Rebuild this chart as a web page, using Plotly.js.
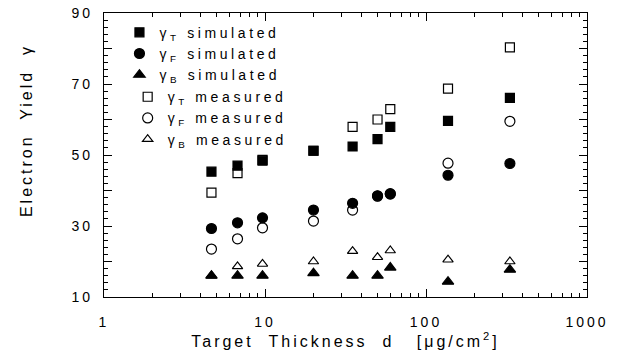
<!DOCTYPE html>
<html>
<head>
<meta charset="utf-8">
<script src="https://cdn.plot.ly/plotly-3.0.1.min.js"></script>
<style>
  html, body { margin: 0; padding: 0; background: #fff; }
  #chart { width: 624px; height: 358px; }
  .main-svg text { letter-spacing: 3px; }
  .main-svg .scrollbox text { letter-spacing: 3.6px; }
  .main-svg .scrollbox { clip-path: none !important; }
</style>
</head>
<body>
<div id="chart"></div>
<script>
// Target thickness d [µg/cm²]
var thickness = [4.65, 6.75, 9.65, 20, 35, 50, 60, 137, 332];

// Electron yield values
var gammaT_sim  = [45.3, 47.0, 48.4, 51.2, 52.4, 54.5, 57.9, 59.6, 66.1];
var gammaF_sim  = [29.3, 30.9, 32.3, 34.5, 36.4, 38.5, 39.1, 44.3, 47.6];
var gammaB_sim  = [16.0, 16.0, 16.0, 16.7, 16.0, 16.0, 18.3, 14.3, 17.7];
var gammaT_meas = [39.4, 44.9, 48.6, 51.2, 57.9, 60.0, 62.9, 68.7, 80.3];
var gammaF_meas = [23.5, 26.4, 29.5, 31.4, 34.5, 38.4, 39.0, 47.7, 59.5];
var gammaB_meas = [16.0, 18.6, 19.3, 20.0, 22.9, 21.2, 23.1, 20.5, 20.0];

var seriesNames = [
  "γ<sub>T</sub> simulated",
  "γ<sub>F</sub> simulated",
  "γ<sub>B</sub> simulated",
  "γ<sub>T</sub> measured",
  "γ<sub>F</sub> measured",
  "γ<sub>B</sub> measured"
];

var xTickVals = [1, 10, 100, 1000];
var xTickText = ["1", "10", "100", "1000"];
var yLabelVals = [10, 30, 50, 70, 90];
var yLabelText = ["10", "30", "50", "70", "90"];

var xTitle = "Target\u00a0\u00a0Thickness\u00a0\u00a0d\u00a0\u00a0\u00a0[μg/cm<sup>2</sup>]";
var yTitle = "Electron\u00a0 Yield\u00a0 γ";

var seriesValues = [gammaT_sim, gammaF_sim, gammaB_sim, gammaT_meas, gammaF_meas, gammaB_meas];
var symbols = ["square", "circle", "triangle-up", "square-open", "circle-open", "triangle-up-open"];
var sizes = [9, 10, 10, 9, 10, 9];
var legends = ["legend", "legend", "legend", "legend2", "legend2", "legend2"];

var traces = seriesValues.map(function (vals, i) {
  return {
    type: "scatter",
    mode: "markers",
    x: thickness,
    y: vals,
    name: seriesNames[i],
    legend: legends[i],
    marker: {
      symbol: symbols[i],
      size: sizes[i],
      color: "#000",
      line: { color: "#000", width: 1.2 }
    }
  };
});

// empty helper trace so the label-only overlay axis is drawn
traces.push({
  type: "scatter", mode: "markers",
  x: [], y: [],
  yaxis: "y2",
  showlegend: false,
  hoverinfo: "skip"
});

var fontFam = "Liberation Sans, Arial, sans-serif";

var legendCommon = {
  xanchor: "left", yanchor: "top",
  bgcolor: "rgba(0,0,0,0)",
  font: { family: fontFam, size: 14, color: "#000" },
  itemwidth: 30
};

var layout = {
  width: 624,
  height: 358,
  margin: { l: 104, r: 37, t: 13, b: 61 },
  paper_bgcolor: "#fff",
  plot_bgcolor: "#fff",
  font: { family: fontFam, color: "#000", size: 14 },
  showlegend: true,
  legend: Object.assign({ x: 0.032, y: 0.987 }, legendCommon),
  legend2: Object.assign({ x: 0.049, y: 0.76 }, legendCommon),
  xaxis: {
    type: "log",
    range: [0, 3],
    tickvals: xTickVals,
    ticktext: xTickText,
    ticks: "inside",
    ticklen: 8,
    tickwidth: 1,
    tickcolor: "#000",
    showline: true,
    linecolor: "#000",
    linewidth: 1,
    mirror: "ticks",
    showgrid: false,
    zeroline: false,
    ticklabelstandoff: 12,
    tickfont: { family: fontFam, size: 14 },
    minor: { dtick: "D1", ticks: "inside", ticklen: 4, tickcolor: "#000", tickwidth: 1, showgrid: false },
    title: { text: xTitle, font: { family: fontFam, size: 16 }, standoff: 6 }
  },
  yaxis: {
    range: [10, 90],
    tick0: 10,
    dtick: 10,
    showticklabels: false,
    ticks: "inside",
    ticklen: 8,
    tickwidth: 1,
    tickcolor: "#000",
    showline: true,
    linecolor: "#000",
    linewidth: 1,
    mirror: "ticks",
    showgrid: false,
    zeroline: false,
    minor: { dtick: 2, ticks: "inside", ticklen: 4, tickcolor: "#000", tickwidth: 1, showgrid: false }
  },
  yaxis2: {
    overlaying: "y",
    anchor: "x",
    side: "left",
    range: [10, 90],
    tickvals: yLabelVals,
    ticktext: yLabelText,
    ticks: "",
    showline: false,
    showgrid: false,
    zeroline: false,
    ticklabelstandoff: 10,
    tickfont: { family: fontFam, size: 14 }
  },
  annotations: [{
    text: yTitle,
    xref: "paper", yref: "paper",
    x: -0.159, y: 0.585,
    xanchor: "center", yanchor: "middle",
    textangle: -90,
    showarrow: false,
    font: { family: fontFam, size: 16, color: "#000" }
  }]
};

Plotly.newPlot("chart", traces, layout, { displayModeBar: false, staticPlot: true });
</script>
</body>
</html>
